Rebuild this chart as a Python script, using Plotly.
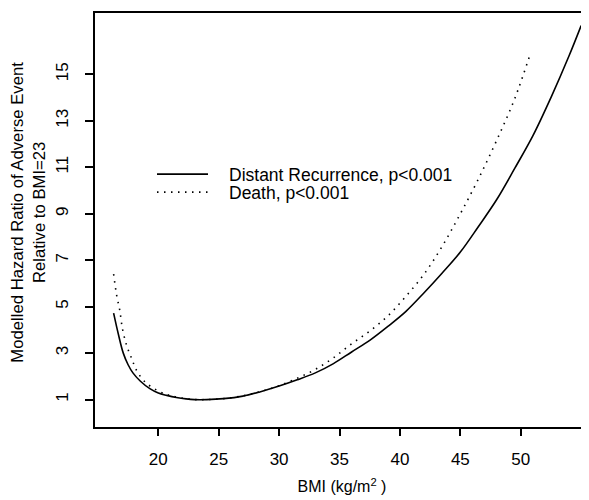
import plotly.graph_objects as go

# Distant recurrence (solid)
bmi_dr = [16.3, 16.7, 17.1, 17.5, 17.9, 18.5, 19.3, 20.0, 20.7, 21.5, 22.3, 23.0,
          24.0, 25.4, 27.0, 28.4, 30.0, 31.5, 33.0, 34.5, 36.0, 37.5, 39.0, 40.5,
          42.0, 43.5, 45.0, 46.5, 48.0, 49.5, 51.0, 52.5, 54.0, 55.0]
hr_dr = [4.72, 3.8, 3.0, 2.5, 2.15, 1.8, 1.47, 1.28, 1.18, 1.09, 1.03, 1.0,
         1.0, 1.04, 1.15, 1.33, 1.58, 1.85, 2.15, 2.55, 3.05, 3.55, 4.15, 4.8,
         5.6, 6.45, 7.35, 8.45, 9.6, 10.95, 12.35, 14.0, 15.8, 17.1]

# Death (dotted)
bmi_death = [16.3, 16.55, 16.8, 17.05, 17.4, 17.8, 18.2, 18.9, 19.9, 20.7, 21.5, 22.3,
             23.0, 24.0, 25.4, 27.0, 28.5, 30.0, 31.5, 33.0, 34.5, 36.0, 37.5, 39.0,
             40.5, 42.0, 43.5, 45.0, 46.5, 48.0, 49.5, 50.8]
hr_death = [6.4, 5.5, 4.87, 4.0, 3.3, 2.76, 2.26, 1.76, 1.40, 1.22, 1.11, 1.04,
            1.0, 1.0, 1.04, 1.16, 1.35, 1.6, 1.92, 2.3, 2.8, 3.4, 3.95, 4.6,
            5.45, 6.4, 7.6, 9.0, 10.5, 12.15, 13.95, 15.9]

series_names = ["Distant Recurrence, p<0.001", "Death, p<0.001"]
x_ticks = [20, 25, 30, 35, 40, 45, 50]
y_ticks = [1, 3, 5, 7, 9, 11, 13, 15]

font = "Liberation Sans, Arial, Helvetica, sans-serif"
DOT = "1.5px,5.5px"

# figure geometry (page has an 8px body margin)
W, H = 581, 492
ML, MT, MB = 87, 5, 73.3
PW, PH = W - ML, H - MT - MB


def px(x):
    return (x - ML) / PW


def py(y):
    return (H - MB - y) / PH


fig = go.Figure()
fig.add_trace(go.Scatter(x=bmi_dr, y=hr_dr, mode="lines", name=series_names[0],
                         line=dict(color="black", width=1.6, shape="spline")))
fig.add_trace(go.Scatter(x=bmi_death, y=hr_death, mode="lines", name=series_names[1],
                         line=dict(color="black", width=1.6, dash=DOT, shape="spline")))

fig.update_layout(
    width=W, height=H,
    margin=dict(l=ML, r=0, t=MT, b=MB, pad=0),
    paper_bgcolor="white", plot_bgcolor="white",
    font=dict(family=font, size=17, color="black"),
    showlegend=False,
    xaxis=dict(range=[14.76, 55.65], tickvals=x_ticks, ticks="outside", ticklen=7,
               tickwidth=1.5, tickcolor="black", showline=True, linecolor="black",
               linewidth=1.6, mirror=True, showgrid=False, zeroline=False,
               ticklabelstandoff=9, automargin=False,
               tickfont=dict(family=font, size=17, color="black"),
               title=dict(text="BMI (kg/m<sup>2</sup> )", standoff=13,
                          font=dict(family=font, size=16, color="black"))),
    yaxis=dict(range=[-0.18, 17.64], tickvals=y_ticks, ticks="outside", ticklen=8,
               tickwidth=1.5, tickcolor="black", showline=True, linecolor="black",
               linewidth=1.6, showgrid=False, zeroline=False, tickangle=-90,
               ticklabelstandoff=10, automargin=False,
               tickfont=dict(family=font, size=17, color="black")),
)

fig.add_annotation(text="Modelled Hazard Ratio of Adverse Event<br>Relative to BMI=23",
                   xref="paper", yref="paper", x=px(20.5), y=py(204),
                   xanchor="center", yanchor="middle", textangle=-90,
                   showarrow=False, font=dict(size=16.7))

# legend, drawn by hand to match the original spacing
for i, (name, dash) in enumerate(zip(series_names, ["solid", DOT])):
    yy = 166 + 18 * i
    fig.add_shape(type="line", xref="paper", yref="paper",
                  x0=px(149), x1=px(200), y0=py(yy), y1=py(yy),
                  line=dict(color="black", width=1.6, dash=dash))
    fig.add_annotation(text=name, xref="paper", yref="paper", x=px(219), y=py(yy + 1),
                       xanchor="left", yanchor="middle", showarrow=False,
                       font=dict(size=17.5))

fig.write_html("out.html")
